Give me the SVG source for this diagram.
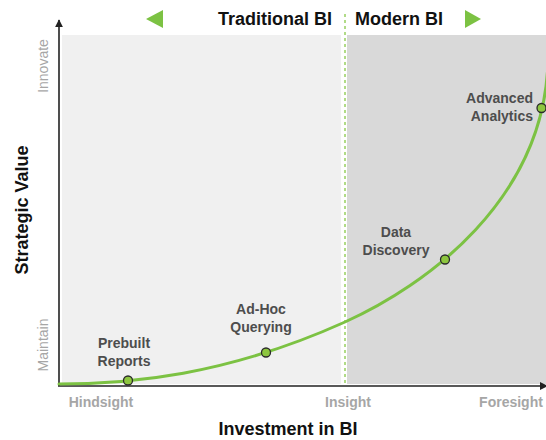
<svg xmlns="http://www.w3.org/2000/svg" width="546" height="440" viewBox="0 0 546 440">
  <style>
    .title { font-family: "Liberation Sans", Arial, sans-serif; font-weight: bold; font-size: 18px; fill: #111; }
    .scale { font-family: "Liberation Sans", Arial, sans-serif; font-size: 14px; fill: #a6a6a6; }
    .tick { font-family: "Liberation Sans", Arial, sans-serif; font-weight: bold; font-size: 14px; fill: #a6a6a6; text-anchor: middle; }
    .label { font-family: "Liberation Sans", Arial, sans-serif; font-weight: bold; font-size: 14px; fill: #4d4d4d; text-anchor: middle; }
    .label.right { text-anchor: end; }
    .pt { fill: #8dc63f; stroke: #2b2b2b; stroke-width: 1.3; }
    .axis { stroke: #222; stroke-width: 1.6; fill: none; }
    .era { fill: #7cc243; }
  </style>
  <defs>
    <marker id="arrow" viewBox="0 0 10 10" refX="9" refY="5" markerWidth="5" markerHeight="5" orient="auto">
      <path d="M0,0 L10,5 L0,10 z" fill="#222"/>
    </marker>
  </defs>

  <rect width="546" height="440" fill="#ffffff"/>

  <!-- era panels -->
  <g id="traditional-panel">
    <rect x="62" y="35" width="279" height="349" fill="#f0f0f0"/>
  </g>
  <g id="modern-panel">
    <rect x="347" y="35" width="199" height="349" fill="#d9d9d9"/>
  </g>
  <line x1="345" y1="14" x2="345" y2="384" stroke="#9ed36a" stroke-width="1.6" stroke-dasharray="3,3"/>

  <!-- era headings -->
  <g id="era-headings">
    <polygon class="era" points="163,10 163,28 146,19"/>
    <text class="title" x="332" y="25" text-anchor="end">Traditional BI</text>
    <text class="title" x="355" y="25">Modern BI</text>
    <polygon class="era" points="465,10 465,28 481,19"/>
  </g>

  <!-- axes -->
  <g id="axes">
    <line class="axis" x1="59" y1="386" x2="59" y2="20" marker-end="url(#arrow)"/>
    <line class="axis" x1="58" y1="386" x2="547" y2="386" marker-end="url(#arrow)"/>
  </g>

  <!-- axis scale labels -->
  <g id="y-scale">
    <text class="scale" transform="translate(48,66) rotate(-90)" text-anchor="middle">Innovate</text>
    <text class="scale" transform="translate(48,345) rotate(-90)" text-anchor="middle">Maintain</text>
    <text class="title" transform="translate(28,210) rotate(-90)" text-anchor="middle">Strategic Value</text>
  </g>
  <g id="x-scale">
    <text class="tick" x="101" y="407">Hindsight</text>
    <text class="tick" x="348" y="407">Insight</text>
    <text class="tick" x="511" y="407">Foresight</text>
    <text class="title" x="288" y="435" text-anchor="middle">Investment in BI</text>
  </g>

  <!-- value curve -->
  <g id="connectors">
    <path d="M59,384 C129,384 225,376 345,322 C425,286 545,200 548,60" fill="none" stroke="#7cc243" stroke-width="3" stroke-linecap="round"/>
  </g>

  <!-- stages -->
  <g id="prebuilt-reports">
    <circle class="pt" cx="128" cy="380.5" r="4.5"/>
    <text class="label" x="124" y="348">Prebuilt</text>
    <text class="label" x="124" y="366">Reports</text>
  </g>
  <g id="ad-hoc-querying">
    <circle class="pt" cx="266" cy="352.5" r="4.5"/>
    <text class="label" x="261" y="314">Ad-Hoc</text>
    <text class="label" x="261" y="332">Querying</text>
  </g>
  <g id="data-discovery">
    <circle class="pt" cx="445" cy="259.5" r="4.5"/>
    <text class="label" x="396" y="237">Data</text>
    <text class="label" x="396" y="255">Discovery</text>
  </g>
  <g id="advanced-analytics">
    <circle class="pt" cx="541.5" cy="108" r="4.5"/>
    <text class="label right" x="533" y="103">Advanced</text>
    <text class="label right" x="533" y="121">Analytics</text>
  </g>
</svg>
